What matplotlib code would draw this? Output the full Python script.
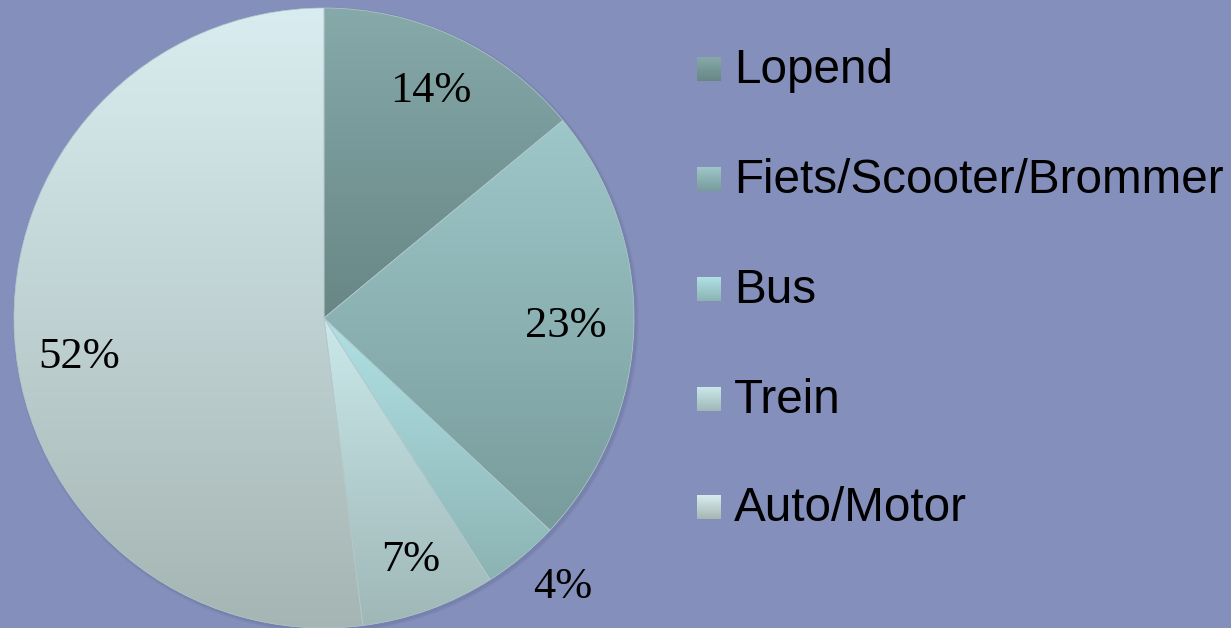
import numpy as np
import matplotlib
matplotlib.use("Agg")
from matplotlib import pyplot as plt
from matplotlib.patches import Circle

# data
labels = ["Lopend", "Fiets/Scooter/Brommer", "Bus", "Trein", "Auto/Motor"]
values = [14, 23, 4, 7, 52]
pct_text = ["14%", "23%", "4%", "7%", "52%"]

# gradient colours per slice (top, bottom)
grad_top = ["#86a9a9", "#9ec7c9", "#b0e1e5", "#cae8ea", "#d9edf0"]
grad_bot = ["#688686", "#789b9b", "#8cb3b3", "#9fb7b7", "#a5b5b3"]
label_dist = [0.81, 0.78, 1.16, 0.83, 0.80]
label_shift = [0, 0, 2, 0, 5.5]   # degrees

bg = "#8490bb"
W, H = 1231, 628

fig = plt.figure(figsize=(W / 100, H / 100), dpi=100)
fig.patch.set_facecolor(bg)
ax = fig.add_axes([0, 0, 1, 1])

cx, cy, R = 324, H - 318, 310

# soft shadow
for i, a in enumerate([0.05, 0.06, 0.08]):
    ax.add_patch(Circle((cx + 2, cy - 2), R + 3 - i, color="#3c4470", alpha=a, lw=0, zorder=1))

wedges, _ = ax.pie(values, startangle=90, counterclock=False, center=(cx, cy),
                   radius=R, frame=True,
                   wedgeprops=dict(edgecolor="#b4cacd", linewidth=0.5, zorder=3))


def vgrad(top, bot, n=256):
    t = np.array(matplotlib.colors.to_rgb(top))
    b = np.array(matplotlib.colors.to_rgb(bot))
    f = np.linspace(0, 1, n)[:, None]
    return (t * (1 - f) + b * f)[:, None, :]


for w, t, b in zip(wedges, grad_top, grad_bot):
    v = w.get_path().vertices
    x0, x1 = v[:, 0].min(), v[:, 0].max()
    y0, y1 = v[:, 1].min(), v[:, 1].max()
    w.set_facecolor("none")
    im = ax.imshow(vgrad(t, b), extent=[x0, x1, y0, y1], aspect="auto",
                   origin="upper", zorder=2, interpolation="bilinear")
    im.set_clip_path(w)

# percentage labels
for w, txt, d, s in zip(wedges, pct_text, label_dist, label_shift):
    ang = np.deg2rad((w.theta1 + w.theta2) / 2 + s)
    ax.text(cx + d * R * np.cos(ang), cy + d * R * np.sin(ang), txt,
            ha="center", va="center", fontsize=32, family="Liberation Serif",
            color="black", zorder=5)

# legend
baselines = [83, 193, 303, 413, 521]
for lab, t, b, yb in zip(labels, grad_top, grad_bot, baselines):
    ytop = H - (yb - 26)
    ax.imshow(vgrad(t, b), extent=[697, 721, ytop - 24, ytop], aspect="auto",
              origin="upper", zorder=4)
    ax.text(734, H - yb, lab, ha="left", va="baseline", fontsize=34.3,
            family="Liberation Sans", color="black", zorder=5)

ax.set_xlim(0, W)
ax.set_ylim(0, H)
ax.set_aspect("equal")
ax.axis("off")

fig.savefig("out.png", dpi=100, facecolor=bg)
